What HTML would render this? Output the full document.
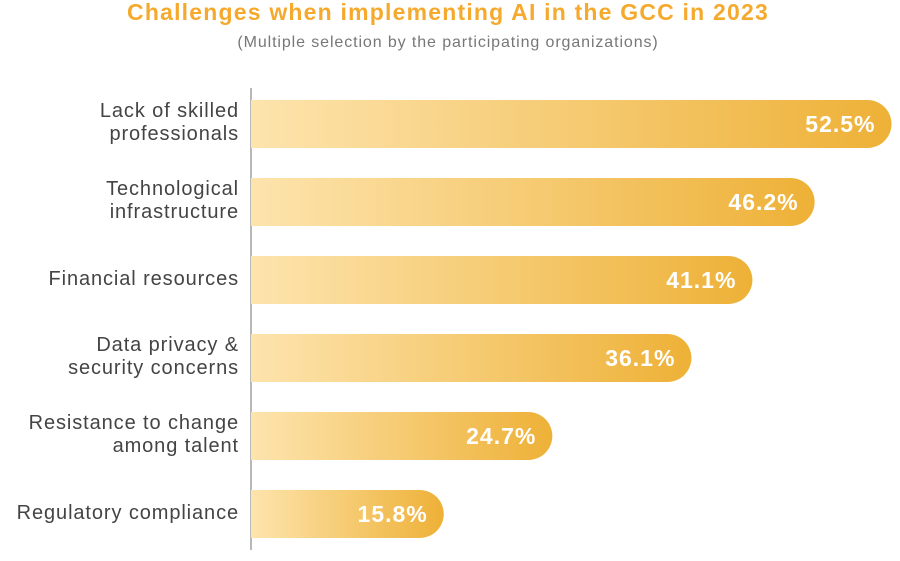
<!DOCTYPE html>
<html><head><meta charset="utf-8"><style>
body{margin:0;background:#fff;}
svg{display:block;font-family:"Liberation Sans",sans-serif;}
</style></head><body>
<svg id="chart" width="900" height="561" viewBox="0 0 900 561">
<defs>
<linearGradient id="g" x1="0" x2="1" y1="0" y2="0">
<stop offset="0" stop-color="#fde4ad"/><stop offset="1" stop-color="#eeb137"/>
</linearGradient>
</defs>
<text x="448" y="20" text-anchor="middle" font-size="23" font-weight="bold" letter-spacing="1.2" fill="#f5aa2e">Challenges when implementing AI in the GCC in 2023</text>
<text x="448" y="47" text-anchor="middle" font-size="16" letter-spacing="0.9" fill="#777">(Multiple selection by the participating organizations)</text>
<line x1="251" y1="88" x2="251" y2="550" stroke="#888" stroke-width="1.2"/>
<g id="bars"></g>
</svg>
<script>
const categories=[["Lack of skilled","professionals"],["Technological","infrastructure"],["Financial resources"],["Data privacy &","security concerns"],["Resistance to change","among talent"],["Regulatory compliance"]];
const values=[52.5,46.2,41.1,36.1,24.7,15.8];
const labels=["52.5%","46.2%","41.1%","36.1%","24.7%","15.8%"];
const x0=251,pxPer=12.2,top0=100,step=78,bh=48;
function xScale(v){return x0+v*pxPer;}
function yScale(i){return top0+i*step;}
const ns="http://www.w3.org/2000/svg",g=document.getElementById("bars");
values.forEach((v,i)=>{
 const y=yScale(i),xe=xScale(v),r=bh/2;
 const p=document.createElementNS(ns,"path");
 p.setAttribute("d",`M${x0},${y}H${xe-r}A${r},${r} 0 0 1 ${xe-r},${y+bh}H${x0}Z`);
 p.setAttribute("fill","url(#g)");
 
 
 g.appendChild(p);
 const t=document.createElementNS(ns,"text");
 t.setAttribute("x",xe-16);t.setAttribute("y",y+bh/2+8);
 t.setAttribute("text-anchor","end");t.setAttribute("font-size","23");
 t.setAttribute("letter-spacing","1");
 t.setAttribute("font-weight","bold");t.setAttribute("fill","#fff");
 t.textContent=labels[i];
 
 
 g.appendChild(t);
 const lines=categories[i];
 lines.forEach((s,k)=>{
  const c=document.createElementNS(ns,"text");
  c.setAttribute("x",239);
  c.setAttribute("y",y+bh/2+7+(lines.length==2?(k==0?-14:9):-2));
  c.setAttribute("text-anchor","end");c.setAttribute("font-size","20");c.setAttribute("letter-spacing","0.9");c.setAttribute("fill","#444");
  c.textContent=s;
  
  
  g.appendChild(c);
 });
});
</script>
</body></html>
